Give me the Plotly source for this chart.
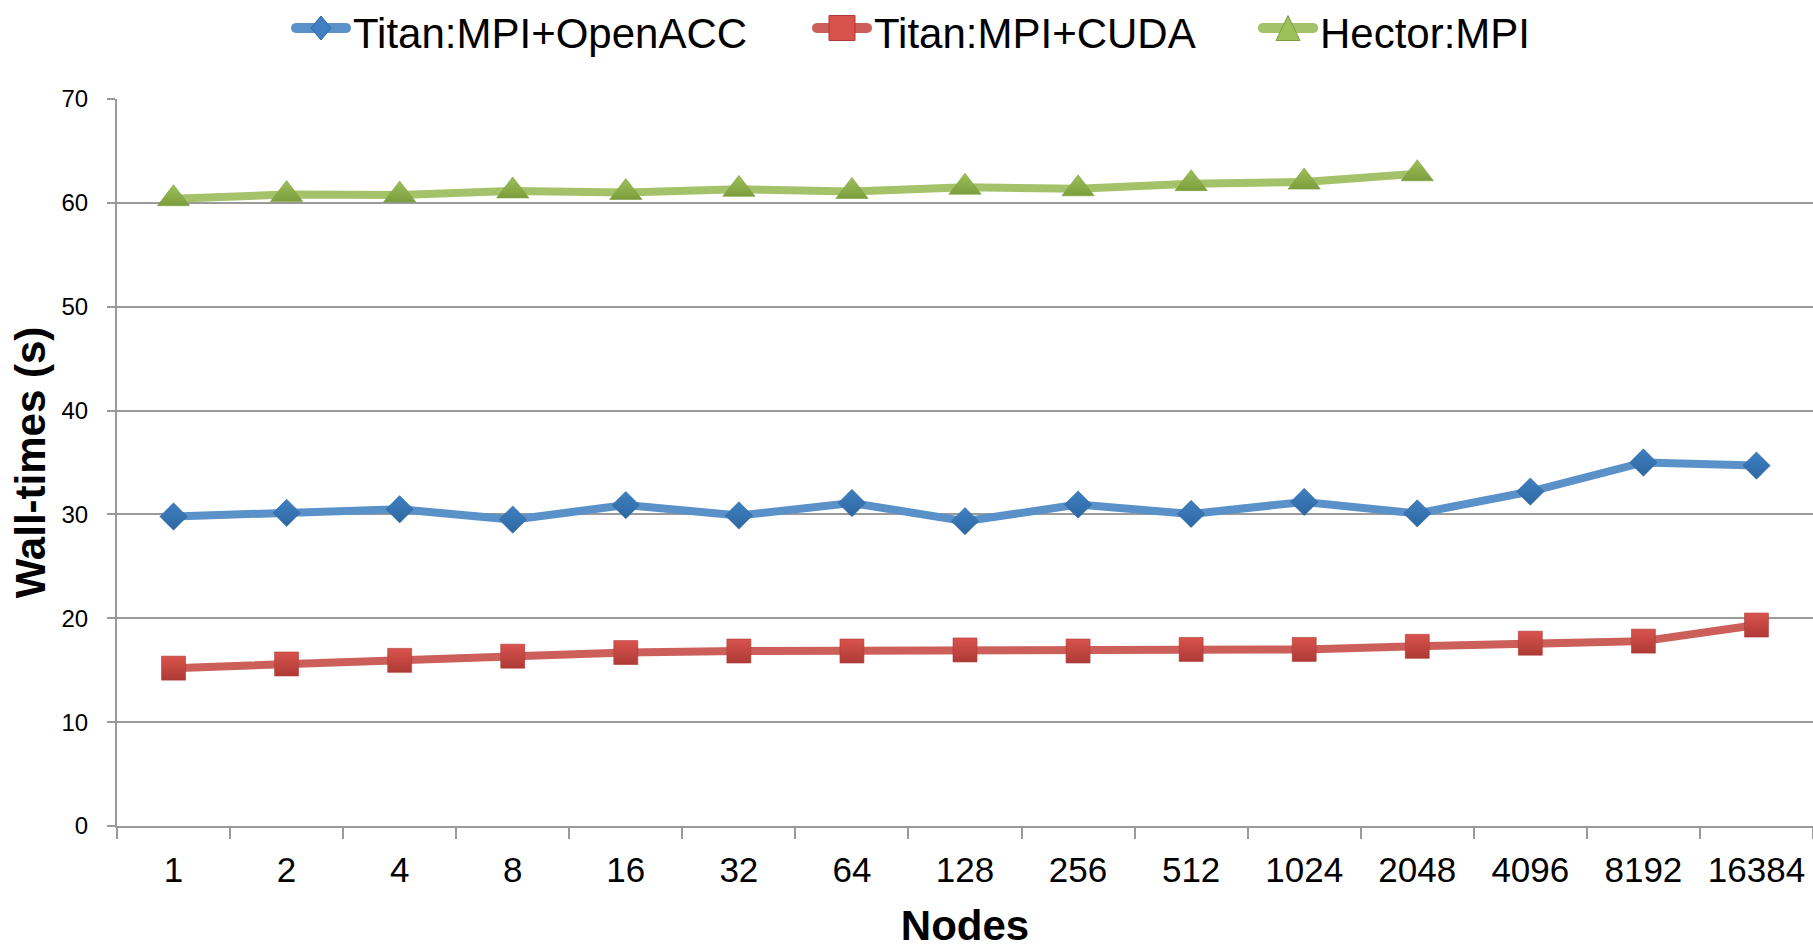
import plotly.graph_objects as go

# Node counts (categorical x axis) and measured wall-times in seconds
nodes = ["1", "2", "4", "8", "16", "32", "64", "128", "256", "512",
         "1024", "2048", "4096", "8192", "16384"]
titan_openacc = [29.8, 30.15, 30.5, 29.5, 30.9, 29.9, 31.1, 29.35, 30.95,
                 30.05, 31.2, 30.1, 32.2, 35.0, 34.7]
titan_cuda = [15.2, 15.6, 15.95, 16.35, 16.7, 16.85, 16.85, 16.95, 16.85,
              17.0, 17.0, 17.3, 17.6, 17.8, 19.35]
hector_mpi = [60.4, 60.8, 60.75, 61.15, 61.0, 61.3, 61.1, 61.5, 61.35,
              61.85, 62.0, 62.8]

y_ticks = [0, 10, 20, 30, 40, 50, 60, 70]

FONT = "Liberation Sans, Arial, sans-serif"
GRID = "#9a9a9a"

W, H = 1813, 949
ML, MR, MT, MB = 117, 0, 99, 123
PW, PH = W - ML - MR, H - MT - MB


def px_x(x):
    """Page pixel column -> paper x fraction."""
    return (x - ML) / PW


def px_y(y):
    """Page pixel row (from top) -> paper y fraction."""
    return (H - MB - y) / PH


# Marker outlines for the legend key, in pixels around the key centre
KEY_PATHS = {
    "diamond": "M0,12 L10,0 L0,-12 L-10,0 Z",
    "square": "M-13,-12.5 L13,-12.5 L13,12.5 L-13,12.5 Z",
    "triangle-up": "M0,12.5 L12,-12.5 L-12,-12.5 Z",
}
# Rounded bar behind each legend marker
KEY_BAR = ("M-25,-5 L25,-5 C31.7,-5 31.7,5 25,5 "
           "L-25,5 C-31.7,5 -31.7,-5 -25,-5 Z")

# name, values, line colour, marker colour, marker shade, symbol, size, key centre x (px)
series = [
    ("Titan:MPI+OpenACC", titan_openacc, "#5a91c9", "#3f80c3", "#2d679f", "diamond", 21, 321),
    ("Titan:MPI+CUDA", titan_cuda, "#cc5f5a", "#d9534d", "#ae3a35", "square", 24, 842),
    ("Hector:MPI", hector_mpi, "#a4c26a", "#9cc05a", "#7c9d3c", "triangle-up", 28, 1288),
]

KEY_Y = 28     # legend key row (px from top)
TEXT_Y = 33    # legend label middle (px from top)

fig = go.Figure()
shapes, annotations = [], []
for name, vals, line_c, mk_c, mk_dark, sym, size, kx in series:
    fig.add_trace(go.Scatter(
        x=nodes[:len(vals)], y=vals, name=name, mode="lines+markers",
        showlegend=False,
        line=dict(color=line_c, width=8),
        marker=dict(symbol=sym, size=size, color=mk_c,
                    gradient=dict(type="vertical", color=mk_dark),
                    line=dict(width=0.6, color=mk_dark)),
    ))
    common = dict(type="path", xref="paper", yref="paper",
                  xsizemode="pixel", ysizemode="pixel",
                  xanchor=px_x(kx), yanchor=px_y(KEY_Y), layer="above")
    shapes.append(dict(path=KEY_BAR, fillcolor=line_c,
                       line=dict(width=0), **common))
    shapes.append(dict(path=KEY_PATHS[sym], fillcolor=mk_c,
                       line=dict(width=1, color=mk_dark), **common))
    annotations.append(dict(
        text=name, xref="paper", yref="paper",
        x=px_x(kx + 30), y=px_y(TEXT_Y), xanchor="left", yanchor="middle",
        showarrow=False, font=dict(size=42, family=FONT, color="black"),
    ))

fig.update_layout(
    width=W, height=H,
    margin=dict(l=ML, r=MR, t=MT, b=MB),
    paper_bgcolor="white", plot_bgcolor="white",
    font=dict(family=FONT, color="black"),
    showlegend=False,
    shapes=shapes,
    annotations=annotations,
    xaxis=dict(
        type="category", range=[-0.5, 14.5],
        showgrid=False, showline=True, linecolor=GRID, linewidth=2,
        ticks="outside", tickson="boundaries", ticklen=11, tickcolor=GRID,
        tickwidth=2, tickfont=dict(size=35), ticklabelstandoff=12,
        title=dict(text="<b>Nodes</b>", font=dict(size=42), standoff=29),
    ),
    yaxis=dict(
        range=[0, 70], tickvals=y_ticks, showgrid=True, gridcolor=GRID,
        gridwidth=2, showline=True, linecolor=GRID, linewidth=2,
        ticks="outside", ticklen=8, tickcolor=GRID, tickwidth=2,
        tickfont=dict(size=24), ticklabelstandoff=14, zeroline=False,
        title=dict(text="<b>Wall-times (s)</b>", font=dict(size=42), standoff=3),
    ),
)

fig.write_html("out.html")
